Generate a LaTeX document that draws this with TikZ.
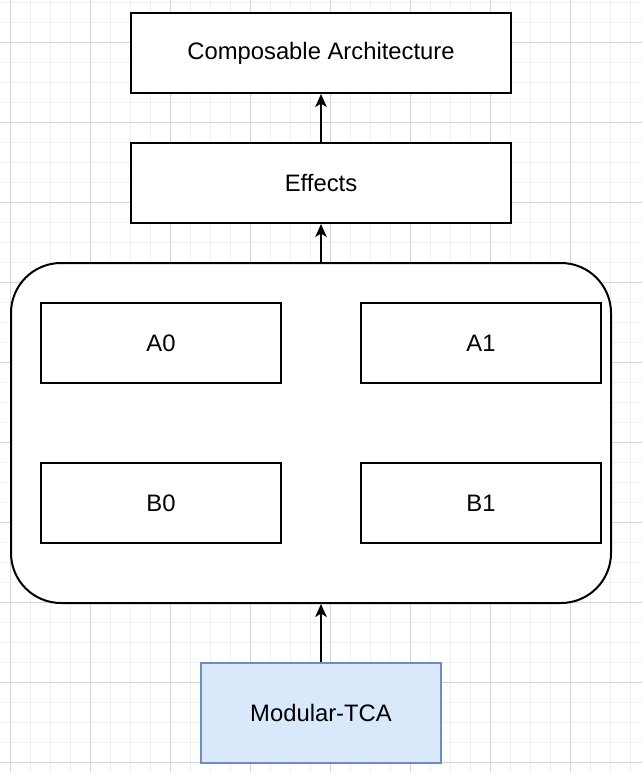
\documentclass[tikz,border=0pt]{standalone}
\usepackage{fontspec}
\setmainfont{Liberation Sans}
\usetikzlibrary{arrows.meta}
\definecolor{gridminor}{HTML}{F0F0F0}
\definecolor{gridmajor}{HTML}{D6D6D6}
\definecolor{modfill}{HTML}{DAE8FC}
\definecolor{moddraw}{HTML}{6C8EBF}
\tikzset{
  box/.style={draw=black, line width=2pt, fill=white, rectangle, inner sep=0pt,
    font=\fontsize{23.8}{28}\selectfont},
  arr/.style={line width=2pt, -{Stealth[length=13pt,width=11.5pt,inset=3.5pt]}},
}
\begin{document}
\begin{tikzpicture}[x=1pt,y=-1pt]
\useasboundingbox (0,0) rectangle (642,772);
\fill[white] (0,0) rectangle (642,772);
% grid
\foreach \k in {0,...,31} \draw[gridminor, line width=1pt] (10.5+20*\k,0) -- (10.5+20*\k,772);
\foreach \k in {0,...,38} \draw[gridminor, line width=1pt] (0,2.5+20*\k) -- (642,2.5+20*\k);
\foreach \k in {0,...,7} \draw[gridmajor, line width=1pt] (10.5+80*\k,0) -- (10.5+80*\k,772);
\foreach \k in {0,...,9} \draw[gridmajor, line width=1pt] (0,42.5+80*\k) -- (642,42.5+80*\k);
% nodes
\node[box, minimum width=380pt, minimum height=80pt] (ca) at (321,53) {Composable Architecture};
\node[box, minimum width=380pt, minimum height=80pt] (eff) at (321,183) {Effects};
\node[box, rounded corners=50pt, minimum width=600pt, minimum height=340pt] (cont) at (311,433) {};
\node[box, minimum width=240pt, minimum height=80pt] (a0) at (161,343) {A0};
\node[box, minimum width=240pt, minimum height=80pt] (a1) at (481,343) {A1};
\node[box, minimum width=240pt, minimum height=80pt] (b0) at (161,503) {B0};
\node[box, minimum width=240pt, minimum height=80pt] (b1) at (481,503) {B1};
\node[box, draw=moddraw, fill=modfill, minimum width=240pt, minimum height=100pt] (mod) at (321,713) {Modular-TCA};
% connectors
\draw[arr] (eff.north) -- (ca.south);
\draw[arr] (cont.north -| eff.south) -- (eff.south);
\draw[arr] (mod.north) -- (mod.north |- cont.south);
\end{tikzpicture}
\end{document}
